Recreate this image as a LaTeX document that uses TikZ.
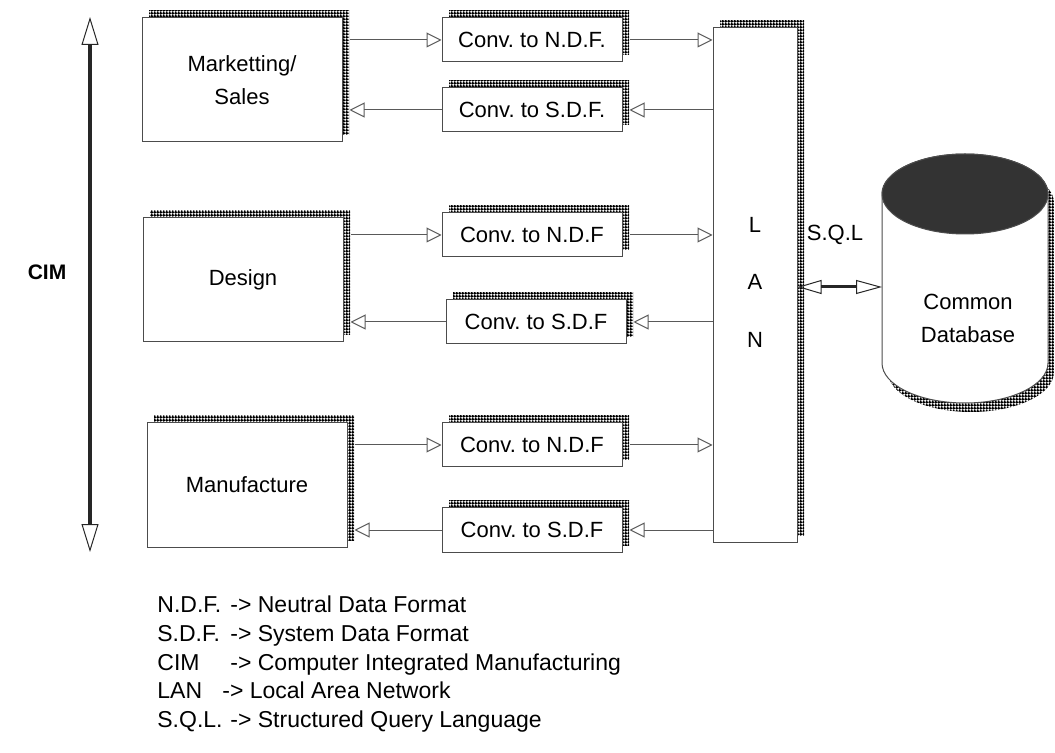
\documentclass[tikz,border=0pt]{standalone}
\usepackage{fontspec}
\setmainfont{Liberation Sans}
\usetikzlibrary{arrows.meta, shadows, patterns, positioning}
\frenchspacing
\pgfdeclarepatternformonly{xadrez}{\pgfpointorigin}{\pgfqpoint{1.4pt}{1.4pt}}{\pgfqpoint{1.4pt}{1.4pt}}{%
  \pgfpathrectangle{\pgfpointorigin}{\pgfqpoint{1.4pt}{0.7pt}}%
  \pgfpathrectangle{\pgfqpoint{0pt}{0.7pt}}{\pgfqpoint{0.7pt}{0.7pt}}%
  \pgfusepath{fill}}
\tikzset{
  sombra/.style = {general shadow={shadow xshift=3.5pt, shadow yshift=3.5pt,
    pattern=xadrez}},
  bloco/.style = {draw=black!70, fill=white, line width=0.5pt, inner sep=0pt,
    minimum width=100pt, minimum height=62pt, align=center,
    font=\fontsize{11}{16.5}\selectfont, sombra},
  conv/.style = {draw=black!70, fill=white, line width=0.5pt, inner sep=0pt,
    minimum width=90pt, minimum height=22pt, font=\fontsize{11}{13}\selectfont,
    sombra},
  lanbox/.style = {draw=black!70, fill=white, line width=0.5pt, inner sep=0pt,
    minimum width=42pt, minimum height=257pt, sombra},
  rot/.style = {font=\fontsize{11}{16.5}\selectfont, align=center, inner sep=0pt},
  leg/.style = {font=\fontsize{11.5}{14}\selectfont, anchor=base west, inner sep=0pt},
  lig/.style = {draw=black!65, line width=0.5pt,
    -{Triangle[open, length=7.5pt, width=7.5pt, line width=0.5pt]}},
  dupla/.style = {draw=black!85, line width=2pt,
    {Triangle[open, length=14pt, width=8.5pt, line width=0.5pt]}-{Triangle[open, length=14pt, width=8.5pt, line width=0.5pt]}},
  sqlseta/.style = {draw=black!85, line width=1.5pt,
    {Triangle[open, length=12pt, width=7pt, line width=0.5pt]}-{Triangle[open, length=13pt, width=7pt, line width=0.5pt]}}
}
\newcommand{\ab}[2][36.5pt]{\makebox[#1][l]{#2}}

\begin{document}
\begin{tikzpicture}[x=0.5pt, y=-0.5pt]
  \useasboundingbox (0,0) rectangle (1055,753);
  % eixo CIM
  \coordinate (cimtop) at (90,17);
  \coordinate (cimbot) at (90,552);
  \draw [dupla] (cimtop) -- (cimbot);
  \node [font=\fontsize{10.5}{12}\selectfont\bfseries] (cim) at (47,272) {CIM};
  % departamentos
  \node [bloco] (mkt) at (242,80) {Marketting/\\Sales};
  \node [bloco] (des) at (243,280) {Design};
  \node [bloco] (man) at (247,485) {Manufacture};
  % conversores
  \node [conv] (n1) at (532,40) {Conv. to N.D.F.};
  \node [conv] (s1) at (532,110) {Conv. to S.D.F.};
  \node [conv] (n2) at (532,235) {Conv. to N.D.F};
  \node [conv] (s2) at (536,322) {Conv. to S.D.F};
  \node [conv] (n3) at (532,445) {Conv. to N.D.F};
  \node [conv] (s3) at (532,530) {Conv. to S.D.F};
  % rede local
  \node [lanbox] (lan) at (755,285) {};
  \node [rot] (lanL) at (755,225) {L};
  \node [rot] (lanA) at (755,282) {A};
  \node [rot] (lanN) at (755,340) {N};
  % ligacoes
  \draw [lig] ([xshift=3.5pt]mkt.east |- n1.west) -- (n1.west);
  \draw [lig] ([xshift=3.5pt]n1.east) -- (lan.west |- n1.east);
  \draw [lig] (lan.west |- s1.east) -- ([xshift=3.5pt]s1.east);
  \draw [lig] (s1.west) -- ([xshift=3.5pt]mkt.east |- s1.west);
  \draw [lig] ([xshift=3.5pt]des.east |- n2.west) -- (n2.west);
  \draw [lig] ([xshift=3.5pt]n2.east) -- (lan.west |- n2.east);
  \draw [lig] (lan.west |- s2.east) -- ([xshift=3.5pt]s2.east);
  \draw [lig] (s2.west) -- ([xshift=3.5pt]des.east |- s2.west);
  \draw [lig] ([xshift=3.5pt]man.east |- n3.west) -- (n3.west);
  \draw [lig] ([xshift=3.5pt]n3.east) -- (lan.west |- n3.east);
  \draw [lig] (lan.west |- s3.east) -- ([xshift=3.5pt]s3.east);
  \draw [lig] (s3.west) -- ([xshift=3.5pt]man.east |- s3.west);
  % base de dados
  \begin{scope}[shift={(6,9)}]
    \path [pattern=xadrez] (882,194) arc[start angle=180, end angle=0, x radius=41.5pt, y radius=20pt]
      -- (1048,363) arc[start angle=0, end angle=-180, x radius=41.5pt, y radius=20pt] -- cycle;
  \end{scope}
  \draw [draw=black!70, fill=white, line width=0.5pt] (882,194) arc[start angle=180, end angle=0, x radius=41.5pt, y radius=20pt]
    -- (1048,363) arc[start angle=0, end angle=-180, x radius=41.5pt, y radius=20pt] -- cycle;
  \draw [draw=black!70, fill=black!80, line width=0.5pt] (965,194) ellipse[x radius=41.5pt, y radius=20pt];
  \node [rot] (db) at (968,318) {Common\\Database};
  \coordinate (dbL) at (882,287);
  \node [rot] (sql) at (835,235) {S.Q.L};
  \draw [sqlseta] (lan.east |- dbL) -- (dbL);
  % legenda
  \node [leg] (l1) at (157,612) {\ab{N.D.F.}-> Neutral Data Format};
  \node [leg] (l2) at (157,641) {\ab{S.D.F.}-> System Data Format};
  \node [leg] (l3) at (157,670) {\ab{CIM}-> Computer Integrated Manufacturing};
  \node [leg] (l4) at (157,698) {\ab[32.5pt]{LAN}-> Local Area Network};
  \node [leg] (l5) at (157,727) {\ab{S.Q.L.}-> Structured Query Language};
\end{tikzpicture}
\end{document}
